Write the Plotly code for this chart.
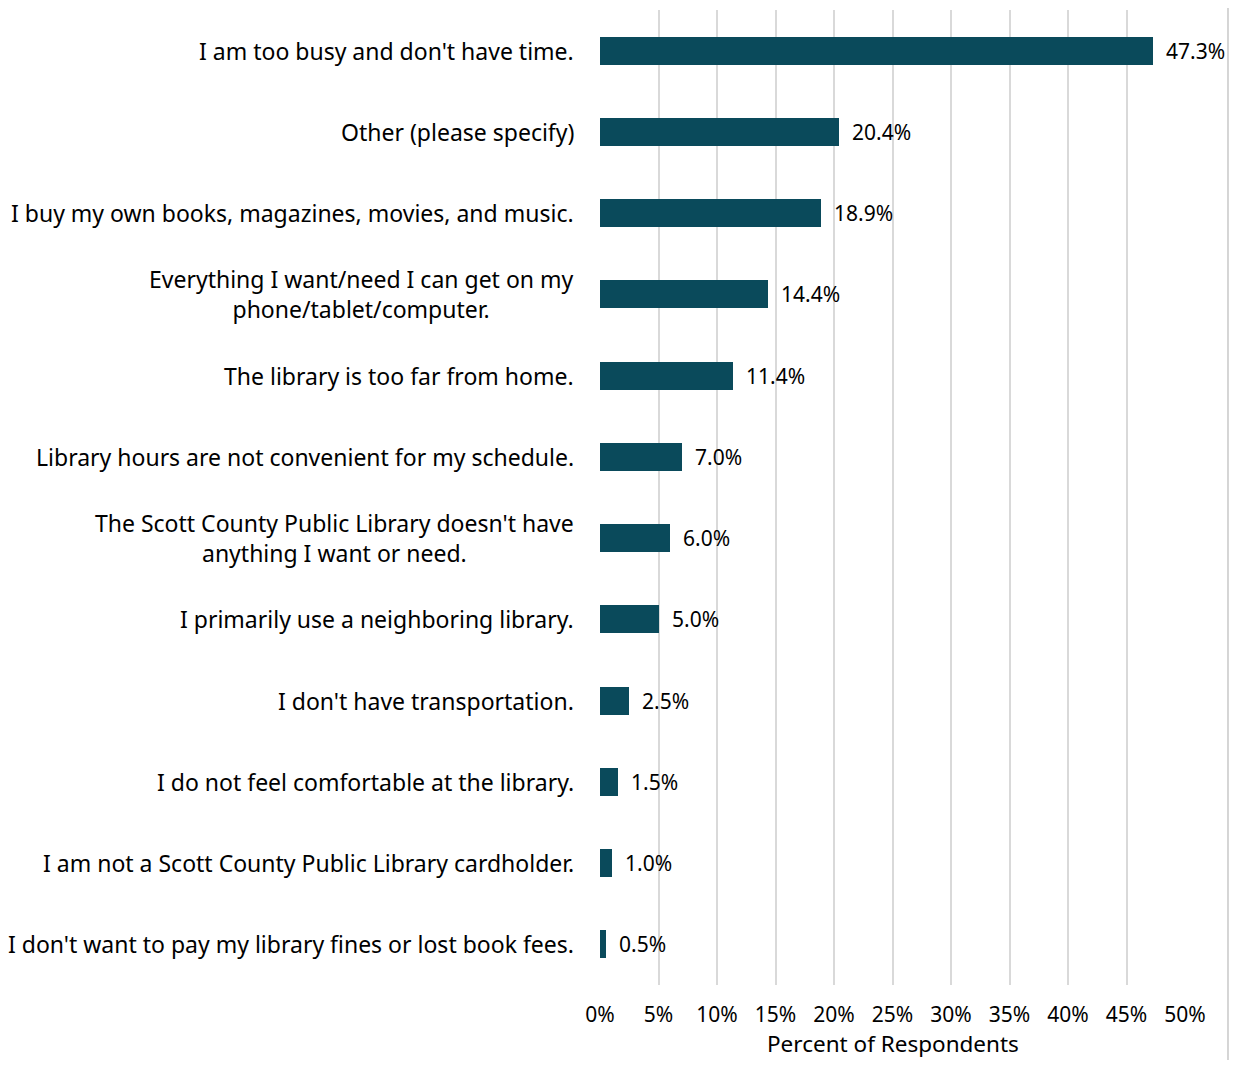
import plotly.graph_objects as go

categories = [
    "I am too busy and don't have time.",
    "Other (please specify)",
    "I buy my own books, magazines, movies, and music.",
    "Everything I want/need I can get on my<br>phone/tablet/computer.",
    "The library is too far from home.",
    "Library hours are not convenient for my schedule.",
    "The Scott County Public Library doesn't have<br>anything I want or need.",
    "I primarily use a neighboring library.",
    "I don't have transportation.",
    "I do not feel comfortable at the library.",
    "I am not a Scott County Public Library cardholder.",
    "I don't want to pay my library fines or lost book fees.",
]
values = [47.3, 20.4, 18.9, 14.4, 11.4, 7.0, 6.0, 5.0, 2.5, 1.5, 1.0, 0.5]
tick_vals = [0, 5, 10, 15, 20, 25, 30, 35, 40, 45, 50]
tick_text = [f"{v}%" for v in tick_vals]
x_title = "Percent of Respondents"

FONT = "Noto Sans"
BAR = "#0A4A5B"

n = len(categories)
ypos = list(range(n))

fig = go.Figure(go.Bar(
    x=values, y=ypos, orientation="h",
    marker=dict(color=BAR, line=dict(width=0)),
    width=0.345,
    hoverinfo="skip",
))

annotations = []
for y, v, c in zip(ypos, values, categories):
    annotations.append(dict(
        x=v, y=y, xref="x", yref="y", text=f"{v:.1f}%", showarrow=False,
        xanchor="left", yanchor="middle", xshift=11,
        font=dict(family=FONT, size=21, color="#000000"),
    ))
    annotations.append(dict(
        x=0, y=y, xref="paper", yref="y", text=c, showarrow=False,
        xanchor="right", yanchor="middle", align="center", xshift=-24,
        font=dict(family=FONT, size=23, color="#000000"),
    ))
annotations.append(dict(
    x=0.5, y=-0.0595, xref="paper", yref="paper", text=x_title, showarrow=False,
    xanchor="center", yanchor="middle",
    font=dict(family=FONT, size=22.5, color="#000000"),
))

fig.update_layout(
    width=1221, height=1052,
    margin=dict(l=592, r=44, t=2, b=75),
    paper_bgcolor="white", plot_bgcolor="white",
    showlegend=False,
    bargap=0,
    annotations=annotations,
    font=dict(family=FONT, size=21, color="#000000"),
    shapes=[dict(type="line", xref="paper", yref="paper", layer="above",
                 x0=1.0735, x1=1.0735, y0=-0.09, y1=1.02,
                 line=dict(color="#C8C8C8", width=1.5))],
)
fig.update_xaxes(
    range=[0, 50], tickvals=tick_vals, ticktext=tick_text,
    showgrid=True, gridcolor="#D9D9D9", gridwidth=1.5,
    zeroline=False, showline=False,
    tickfont=dict(family=FONT, size=21, color="#000000"),
    ticklen=0, ticks="", ticklabelstandoff=15,
)
fig.update_yaxes(
    range=[n - 0.5, -0.5], showticklabels=False, showgrid=False,
    zeroline=False, showline=False,
)

fig.write_html("out.html")
